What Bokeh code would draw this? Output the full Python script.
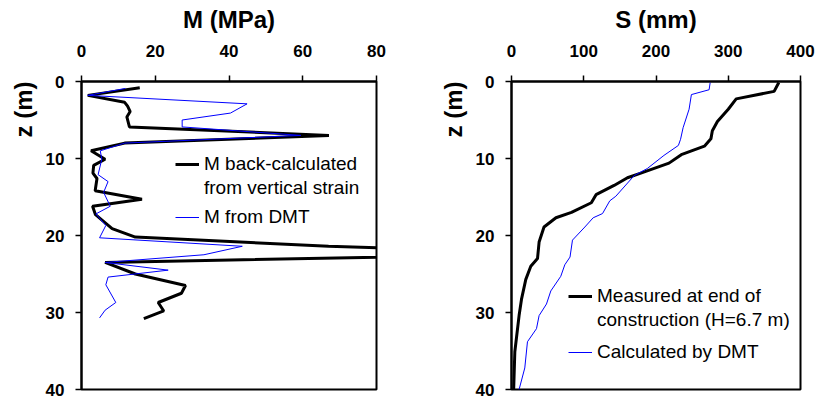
from bokeh.plotting import figure
from bokeh.models import Range1d, Legend, LegendItem, Title, FixedTicker
from bokeh.layouts import row
from bokeh.embed import file_html
from bokeh.resources import INLINE

# Constrained modulus profiles: depth z (m) and M (MPa)
z_m_back = [0.8, 1.8, 2.7, 3.2, 3.9, 4.6, 5.9, 7.0, 8.0, 9.0, 10.1, 10.9, 11.9, 12.6,
            14.2, 15.3, 16.2, 17.3, 19.1, 20.2, 21.4, 22.35, 23.5, 25.0, 26.5, 27.5,
            28.7, 29.8, 30.8]
m_back = [15.8, 1.7, 11.7, 12.5, 13.2, 12.3, 13.0, 67.1, 11.7, 2.6, 6.4, 3.3, 3.1, 4.2,
          3.7, 16.4, 3.0, 3.8, 8.3, 14.6, 67.0, 130.0, 6.4, 14.6, 28.2, 27.1,
          20.8, 22.3, 16.9]

z_m_dmt = [0.9, 1.8, 2.9, 4.1, 5.0, 5.9, 7.0, 8.0, 9.0, 10.1, 12.1, 13.0, 14.4, 16.2,
           17.2, 18.7, 20.3, 21.4, 22.5, 23.5, 24.5, 25.4, 26.4, 28.7, 29.7, 30.7]
m_dmt = [11.9, 1.7, 44.9, 40.4, 27.3, 27.3, 59.5, 11.7, 5.1, 5.5, 4.5, 7.2, 6.0, 7.8,
         3.9, 6.6, 4.9, 43.6, 33.2, 6.4, 23.5, 7.2, 6.6, 9.3, 6.4, 4.9]

# Settlement profiles: depth z (m) and S (mm)
z_s_meas = [0.13, 1.28, 2.26, 3.6, 5.2, 6.4, 7.45, 8.4, 9.5, 10.6, 11.9, 12.5, 13.5,
            14.7, 15.75, 17.0, 17.7, 18.9, 20.85, 23.0, 24.0, 25.7, 28.3, 30.4, 35.1, 40.0]
s_meas = [370, 363.5, 311, 300, 285, 278, 276, 267, 235, 218, 179, 160.5, 142,
          117, 110.5, 83, 61.5, 45, 38.2, 36, 26.7, 19.8, 13.8, 10.5, 4.6, 3]

z_s_dmt = [0.13, 1.07, 1.7, 3.6, 6.0, 7.5, 8.3, 9.6, 11.3, 12.2, 14.9, 15.5, 17.15,
           17.7, 18.9, 20.6, 22.8, 23.8, 25.3, 27.2, 28.9, 30.4, 32.1, 33.8, 37.2, 40.0]
s_dmt = [275, 273.5, 249, 245.8, 237.5, 234, 231, 211, 188, 170, 144.4, 136, 126,
         113, 101.5, 84.4, 81, 73.8, 68.2, 54.4, 48.4, 38.2, 34.6, 22.1, 18.4, 10.5]

# Legend texts (the first entry of each panel wraps onto a second line)
left_labels = ["M back-calculated", "from vertical strain", "M from DMT"]
right_labels = ["Measured at end of", "construction (H=6.7 m)", "Calculated by DMT"]

FONT = "Liberation Sans"


def panel(xlabel, xmax, xstep, b_left, b_right, b_top):
    p = figure(width=417, height=400, x_range=Range1d(0, xmax), y_range=Range1d(40, 0),
               x_axis_location="above", output_backend="svg", toolbar_location=None,
               min_border_left=b_left, min_border_right=b_right,
               min_border_top=b_top, min_border_bottom=11)
    p.grid.visible = False
    p.outline_line_color = "black"
    p.outline_line_width = 2
    p.background_fill_color = "white"
    p.border_fill_color = "white"

    for ax in (p.xaxis, p.yaxis):
        ax.axis_line_width = 2
        ax.axis_line_color = "black"
        ax.major_tick_line_width = 1.5
        ax.major_tick_in = 0
        ax.major_tick_out = 6
        ax.minor_tick_line_color = None
        ax.major_label_text_font = FONT
        ax.major_label_text_font_style = "bold"
        ax.major_label_text_font_size = "17px"
        ax.major_label_text_color = "black"

    p.xaxis.ticker = FixedTicker(ticks=list(range(0, xmax + 1, xstep)))
    p.yaxis.ticker = FixedTicker(ticks=[0, 10, 20, 30, 40])
    p.xaxis.major_label_standoff = 19
    p.yaxis.major_label_standoff = 11

    p.xaxis.axis_label = xlabel
    p.xaxis.axis_label_text_font = FONT
    p.xaxis.axis_label_text_font_style = "bold"
    p.xaxis.axis_label_text_font_size = "24px"
    p.xaxis.axis_label_text_color = "black"
    p.xaxis.axis_label_standoff = 9

    p.add_layout(Title(text="z (m)", align="right", text_font=FONT,
                       text_font_style="bold", text_font_size="24px",
                       text_color="black", standoff=11), "left")
    return p


def style_legend(leg):
    leg.border_line_color = None
    leg.background_fill_alpha = 0
    leg.padding = 0
    leg.margin = 0
    leg.spacing = 2
    leg.glyph_width = 24
    leg.glyph_height = 20
    leg.label_standoff = 5
    leg.label_text_font = FONT
    leg.label_text_font_size = "19px"
    leg.label_text_color = "black"
    leg.label_height = 20


def add_legends(p, r_main, r_other, labels, x, y_top_pair, y_single):
    # continuation line of the first label gets an empty, invisible renderer
    blank = p.line([], [], line_alpha=0)
    leg_a = Legend(items=[LegendItem(label=labels[0], renderers=[r_main]),
                          LegendItem(label=labels[1], renderers=[blank])],
                   location=(x, y_top_pair))
    leg_b = Legend(items=[LegendItem(label=labels[2], renderers=[r_other])],
                   location=(x, y_single))
    for leg in (leg_a, leg_b):
        style_legend(leg)
        p.add_layout(leg, "center")


left = panel("M (MPa)", 80, 20, 81, 41, 81)
r1 = left.line(m_back, z_m_back, line_color="black", line_width=3)
r2 = left.line(m_dmt, z_m_dmt, line_color="#0000ff", line_width=1)
add_legends(left, r1, r2, left_labels, 94, 190, 161)

right = panel("S (mm)", 400, 100, 94, 34, 78)
r3 = right.line(s_meas, z_s_meas, line_color="black", line_width=3)
r4 = right.line(s_dmt, z_s_dmt, line_color="#0000ff", line_width=1)
add_legends(right, r3, r4, right_labels, 57, 58, 26)

layout = row(left, right)
open("out.html", "w").write(file_html(layout, INLINE))
